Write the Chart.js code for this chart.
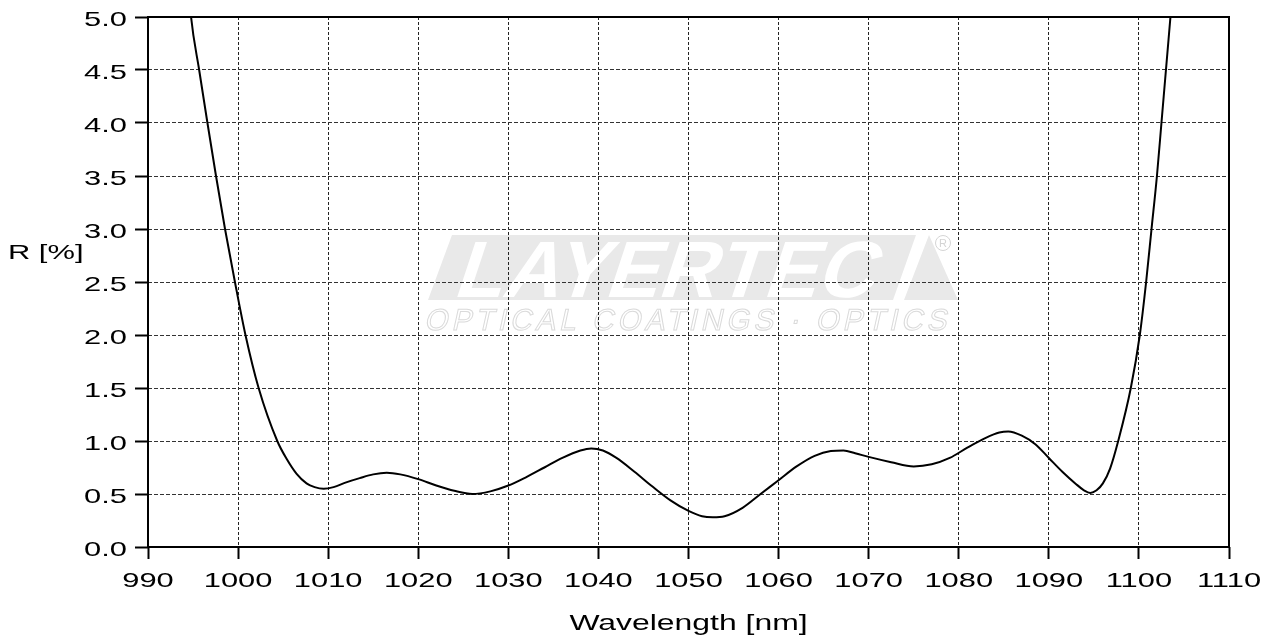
<!DOCTYPE html>
<html>
<head>
<meta charset="utf-8">
<title>Reflectance</title>
<script src="https://cdn.jsdelivr.net/npm/chart.js@4.4.1/dist/chart.umd.min.js"></script>
<style>
  html, body { margin: 0; padding: 0; background: #fff; }
</style>
</head>
<body>
<canvas id="myChart" width="1276" height="637"></canvas>
<script>
// values
const wavelength = [994.5, 994.78, 995.68, 996.6, 997.55, 998.55, 999.65, 1000.82, 1002.28, 1004.35,
  1005.4, 1006.5, 1007.6, 1008.5, 1009.5, 1010.6, 1012.0, 1013.5, 1015.0, 1016.5,
  1018.0, 1020.0, 1022.0, 1024.0, 1026.0, 1028.0, 1030.0, 1032.0, 1034.0, 1036.0,
  1038.0, 1039.2, 1040.5, 1042.0, 1044.0, 1046.0, 1048.0, 1050.0, 1051.5, 1052.7,
  1054.0, 1056.0, 1058.0, 1060.0, 1062.0, 1064.0, 1065.8, 1067.2, 1068.5, 1070.0,
  1072.5, 1075.0, 1077.0, 1079.0, 1081.0, 1083.0, 1084.5, 1085.5, 1087.0, 1088.5,
  1090.0, 1091.5, 1093.0, 1093.9, 1094.6, 1095.3, 1096.0, 1096.8, 1097.7, 1099.1,
  1100.1, 1100.8, 1101.4, 1102.0, 1102.5, 1103.0, 1103.5, 1103.8]
const reflectance = [5.3, 5.0, 4.5, 4.0, 3.5, 3.0, 2.5, 2.0, 1.5, 1.0,
  0.83, 0.69, 0.60, 0.565, 0.55, 0.565, 0.61, 0.65, 0.685, 0.70,
  0.685, 0.64, 0.58, 0.53, 0.50, 0.525, 0.58, 0.66, 0.75, 0.84,
  0.91, 0.93, 0.91, 0.84, 0.71, 0.57, 0.44, 0.34, 0.29, 0.28,
  0.29, 0.37, 0.50, 0.63, 0.76, 0.86, 0.905, 0.91, 0.885, 0.85,
  0.80, 0.76, 0.78, 0.84, 0.94, 1.03, 1.08, 1.09, 1.05, 0.97,
  0.84, 0.71, 0.595, 0.535, 0.51, 0.535, 0.60, 0.74, 1.0, 1.5,
  2.0, 2.5, 3.0, 3.5, 4.0, 4.5, 5.0, 5.3]

const xTicks = [990, 1000, 1010, 1020, 1030, 1040, 1050, 1060, 1070, 1080, 1090, 1100, 1110]
const yTicks = [0, 0.5, 1.0, 1.5, 2.0, 2.5, 3.0, 3.5, 4.0, 4.5, 5.0]

const FONT = '"Liberation Sans", Arial, sans-serif'
const STRETCH = 1.47

function stretchedText(ctx, text, x, y, align, sx) {
    ctx.save()
    ctx.translate(x, y)
    ctx.scale(sx || STRETCH, 1)
    ctx.textAlign = align
    ctx.textBaseline = 'alphabetic'
    ctx.fillText(text, 0, 0)
    ctx.restore()
}

// light LAYERTEC logo behind the grid
const watermark = {
    id: 'watermark',
    beforeDraw(chart) {
        const ctx = chart.ctx
        ctx.save()
        ctx.fillStyle = '#e9e9e9'
        ctx.beginPath()
        ctx.moveTo(452, 235)
        ctx.lineTo(916, 235)
        ctx.lineTo(893, 300)
        ctx.lineTo(428, 300)
        ctx.closePath()
        ctx.fill()
        ctx.beginPath()
        ctx.moveTo(929, 235)
        ctx.lineTo(958, 300)
        ctx.lineTo(904, 300)
        ctx.closePath()
        ctx.fill()

        // white letters
        ctx.font = 'bold 80px ' + FONT
        const w = ctx.measureText('LAYERTEC').width
        ctx.fillStyle = '#ffffff'
        ctx.translate(452, 297)
        ctx.transform(1, 0, -0.33, 1, 0, 0)
        ctx.scale(420 / w, 1)
        ctx.textBaseline = 'alphabetic'
        ctx.fillText('LAYERTEC', 0, 0)
        ctx.restore()

        ctx.save()
        ctx.font = '30px ' + FONT
        ctx.letterSpacing = '4px'
        const sub = 'OPTICAL COATINGS \u00b7 OPTICS'
        const w2 = ctx.measureText(sub).width
        ctx.strokeStyle = '#dadada'
        ctx.lineWidth = 1
        ctx.translate(424, 330)
        ctx.transform(1, 0, -0.22, 1, 0, 0)
        ctx.scale(526 / w2, 1)
        ctx.strokeText(sub, 0, 0)
        ctx.restore()

        ctx.save()
        ctx.strokeStyle = '#d4d4d4'
        ctx.fillStyle = '#d4d4d4'
        ctx.lineWidth = 1
        ctx.beginPath()
        ctx.arc(943, 243, 7.5, 0, Math.PI * 2)
        ctx.stroke()
        ctx.font = '11px ' + FONT
        ctx.textAlign = 'center'
        ctx.textBaseline = 'middle'
        ctx.fillText('R', 943, 243.5)
        ctx.restore()
    }
}

// frame, tick labels and axis titles
const frameAndLabels = {
    id: 'frameAndLabels',
    afterDraw(chart) {
        const ctx = chart.ctx
        const a = chart.chartArea
        const xs = chart.scales.x
        const ys = chart.scales.y
        ctx.save()
        ctx.strokeStyle = '#000'
        ctx.lineWidth = 2
        ctx.strokeRect(a.left, a.top, a.right - a.left, a.bottom - a.top)

        ctx.fillStyle = '#000'
        ctx.font = '21px ' + FONT
        xTicks.forEach(v => {
            stretchedText(ctx, String(v), xs.getPixelForValue(v), 587, 'center')
        })
        yTicks.forEach(v => {
            stretchedText(ctx, v.toFixed(1), 127, ys.getPixelForValue(v) + 8.5, 'right')
        })
        stretchedText(ctx, 'R [%]', 8, 259, 'left')
        ctx.font = '22px ' + FONT
        stretchedText(ctx, 'Wavelength [nm]', (a.left + a.right) / 2, 630, 'center', 1.45)
        ctx.restore()
    }
}

const ctx = document.getElementById('myChart').getContext('2d')
const myChart = new Chart(ctx, {
    type: 'line',
    data: {
        datasets: [{
            data: wavelength.map((x, i) => ({ x: x, y: reflectance[i] })),
            borderColor: '#000',
            borderWidth: 2,
            pointRadius: 0,
            fill: false,
            cubicInterpolationMode: 'monotone',
            clip: 0
        }]
    },
    options: {
        responsive: false,
        animation: false,
        events: [],
        layout: {
            padding: { left: 135, right: 47, top: 17, bottom: 78 }
        },
        plugins: {
            legend: { display: false },
            tooltip: { enabled: false }
        },
        scales: {
            x: {
                type: 'linear',
                min: 990,
                max: 1110,
                ticks: { stepSize: 10, display: false },
                border: { display: false, dash: [3, 2] },
                grid: {
                    color: '#222',
                    lineWidth: 1,
                    drawTicks: true,
                    tickLength: 12,
                    tickWidth: 2,
                    tickColor: '#000',
                    tickBorderDash: []
                }
            },
            y: {
                type: 'linear',
                min: 0,
                max: 5,
                ticks: { stepSize: 0.5, display: false },
                border: { display: false, dash: [4, 2] },
                grid: {
                    color: '#333',
                    lineWidth: 1,
                    drawTicks: true,
                    tickLength: 13,
                    tickWidth: 2,
                    tickColor: '#000',
                    tickBorderDash: []
                }
            }
        }
    },
    plugins: [watermark, frameAndLabels]
})
</script>
</body>
</html>
